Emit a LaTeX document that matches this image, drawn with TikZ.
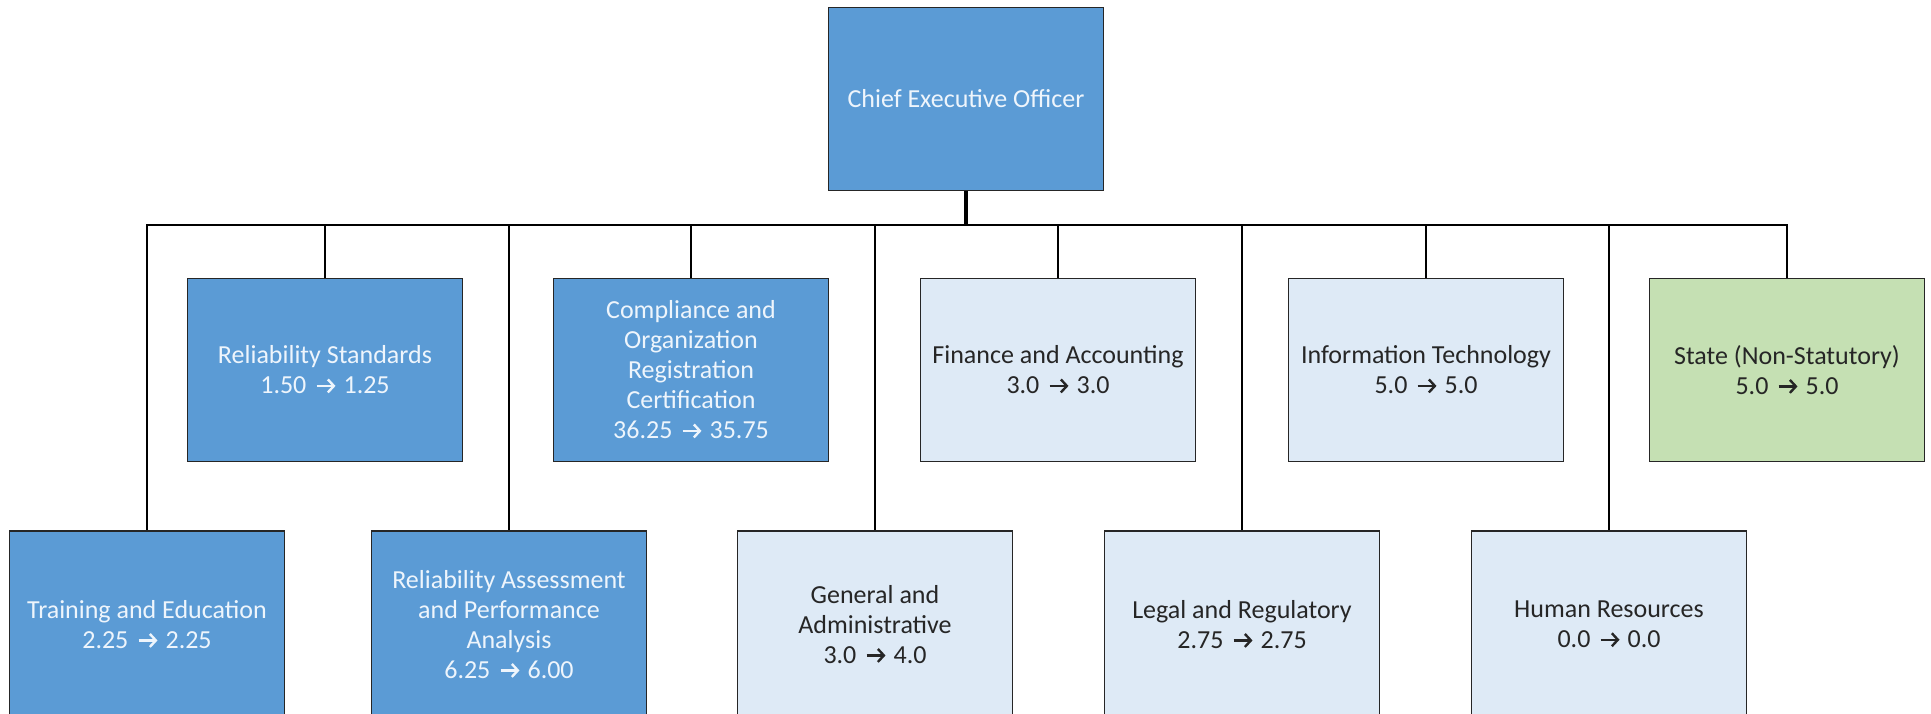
\documentclass[tikz,border=0pt]{standalone}
\usepackage{fontspec}
\setmainfont{Carlito}
\usetikzlibrary{arrows.meta}
\definecolor{dkblue}{HTML}{5B9BD5}
\definecolor{ltblue}{HTML}{DEEAF6}
\definecolor{ltgreen}{HTML}{C5E0B3}
\definecolor{bordr}{HTML}{262626}
\definecolor{dktext}{HTML}{262626}
\definecolor{whtext}{HTML}{EEF5FC}
\newcommand\arr{\hspace{3pt}\tikz[baseline=-8pt]\draw[line width=2.4pt,-{Straight Barb[length=6pt,width=13pt]}] (0pt,0pt)--(19pt,0pt);\hspace{1pt}}
\tikzset{
  orgbox/.style={draw=bordr, line width=1.6pt, minimum width=275pt, minimum height=183pt,
    align=center, font=\fontsize{26}{30}\selectfont, inner sep=0pt},
  rowtwo/.style={minimum height=187pt},
  dk/.style={orgbox, fill=dkblue, text=whtext},
  lt/.style={orgbox, fill=ltblue, text=dktext},
  gr/.style={orgbox, fill=ltgreen, text=dktext},
  conn/.style={draw=black, line width=2pt},
  stem/.style={draw=black, line width=3.6pt}
}
\begin{document}
\begin{tikzpicture}[x=1pt,y=-1pt]
\useasboundingbox (0,0) rectangle (1931,714);
\fill[white] (0,0) rectangle (1931,714);
% top
\node[dk] (ceo) at (966,99) {Chief Executive Officer};
% row 1
\node[dk] (rs) at (325,370) {Reliability Standards\\1.50 \arr{} 1.25};
\node[dk] (comp) at (691,370) {Compliance and\\Organization\\Registration\\Certification\\36.25 \arr{} 35.75};
\node[lt] (fa) at (1058,370) {Finance and Accounting\\3.0 \arr{} 3.0};
\node[lt] (it) at (1426,370) {Information Technology\\5.0 \arr{} 5.0};
\node[gr] (st) at (1787,370) {State (Non-Statutory)\\5.0 \arr{} 5.0};
% row 2
\node[dk, rowtwo] (te) at (147,624.5) {Training and Education\\2.25 \arr{} 2.25};
\node[dk, rowtwo] (rapa) at (509,624.5) {Reliability Assessment\\and Performance\\Analysis\\6.25 \arr{} 6.00};
\node[lt, rowtwo] (ga) at (875,624.5) {General and\\Administrative\\3.0 \arr{} 4.0};
\node[lt, rowtwo] (lr) at (1242,624.5) {Legal and Regulatory\\2.75 \arr{} 2.75};
\node[lt, rowtwo] (hr) at (1609,624.5) {Human Resources\\0.0 \arr{} 0.0};
% connectors
\coordinate (bus) at (966,225);
\draw[conn] (te.north) -- (te.north |- bus) -- (st.north |- bus) -- (st.north);
\foreach \n in {rs,rapa,comp,ga,fa,lr,it,hr}
  \draw[conn] (\n.north |- bus) -- (\n.north);
\draw[stem] (ceo.south) -- (bus);
\end{tikzpicture}
\end{document}
